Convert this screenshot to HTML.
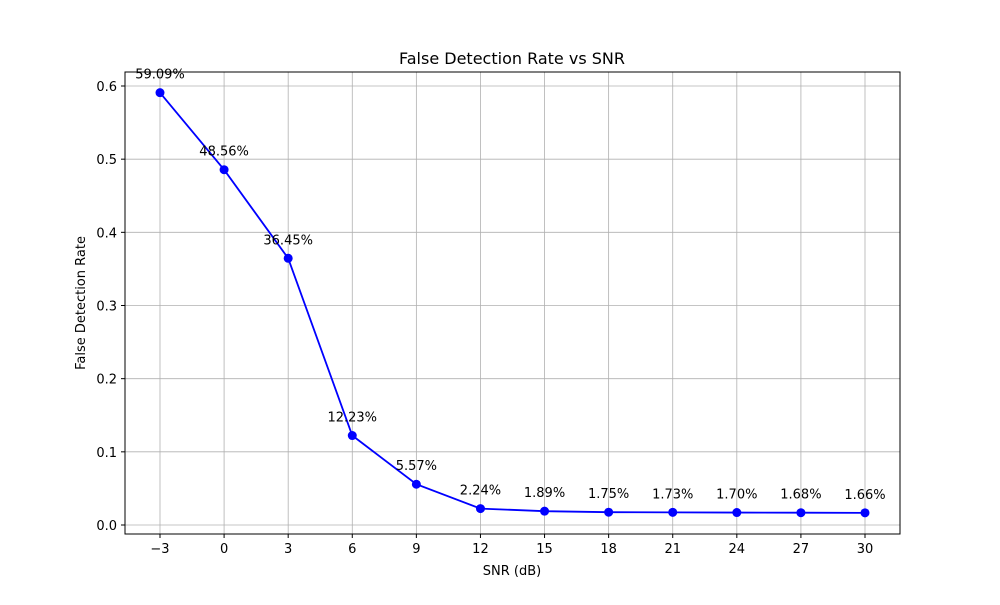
<!DOCTYPE html>
<html><head><meta charset="utf-8"><style>
body{margin:0;background:#fff;font-family:"Liberation Sans","DejaVu Sans",sans-serif;}
svg text{font-family:"DejaVu Sans","Liberation Sans",sans-serif;}
</style></head><body>
<svg id="chart" width="1000" height="600" xmlns="http://www.w3.org/2000/svg">
<rect width="1000" height="600" fill="#fff"/>
<g id="grid"></g>
<g id="ticks"></g>
<rect x="125" y="72" width="775" height="462" fill="none" stroke="#000" stroke-width="1"/>
<g id="series"></g>
<text x="512" y="64" font-size="16" text-anchor="middle">False Detection Rate vs SNR</text>
<text x="512" y="575" font-size="13" text-anchor="middle">SNR (dB)</text>
<text transform="translate(85,303) rotate(-90)" font-size="13" text-anchor="middle">False Detection Rate</text>
</svg>
<script>
const snr=[-3,0,3,6,9,12,15,18,21,24,27,30];
const rate=[0.5909,0.4856,0.3645,0.1223,0.0557,0.0224,0.0189,0.0175,0.0173,0.0170,0.0168,0.0166];
const labels=["59.09%","48.56%","36.45%","12.23%","5.57%","2.24%","1.89%","1.75%","1.73%","1.70%","1.68%","1.66%"];
const yTicks=[0.0,0.1,0.2,0.3,0.4,0.5,0.6];
const xTicks=[-3,0,3,6,9,12,15,18,21,24,27,30];
const xs=v=>160+(v+3)*(705/33);
const ys=v=>525-v*(439/0.6);
const NS="http://www.w3.org/2000/svg";
function mk(t,a,p){const e=document.createElementNS(NS,t);for(const k in a)e.setAttribute(k,a[k]);p.appendChild(e);return e;}
const grid=document.getElementById('grid'),ticks=document.getElementById('ticks'),ser=document.getElementById('series');
xTicks.forEach(v=>{const x=xs(v);
const g=mk('line',{x1:x,x2:x,y1:72,y2:534,stroke:'#b0b0b0','stroke-width':0.8},grid);


mk('line',{x1:x,x2:x,y1:534,y2:538,stroke:'#000'},ticks);
const t=mk('text',{x:x,y:553,'font-size':13,'text-anchor':'middle'},ticks);t.textContent=v<0?'\u2212'+(-v):v;

});
yTicks.forEach(v=>{const y=ys(v);
const g=mk('line',{x1:125,x2:900,y1:y,y2:y,stroke:'#b0b0b0','stroke-width':0.8},grid);


mk('line',{x1:121,x2:125,y1:y,y2:y,stroke:'#000'},ticks);
const t=mk('text',{x:117,y:y+5,'font-size':13,'text-anchor':'end'},ticks);t.textContent=v.toFixed(1);

});
const pl=mk('polyline',{points:snr.map((s,i)=>xs(s)+','+ys(rate[i])).join(' '),fill:'none',stroke:'#0000ff','stroke-width':1.8},ser);


snr.forEach((s,i)=>{const x=xs(s),y=ys(rate[i]);
const c=mk('circle',{cx:x,cy:y,r:4.5,fill:'#0000ff'},ser);


const t=mk('text',{x:x,y:y-14,'font-size':13,'text-anchor':'middle'},ser);t.textContent=labels[i];

});
</script>
</body></html>
